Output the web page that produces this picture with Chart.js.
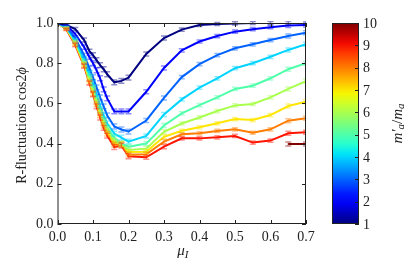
<!DOCTYPE html>
<html>
<head>
<meta charset="utf-8"/>
<title>R-fluctuations</title>
<script src="https://cdn.jsdelivr.net/npm/chart.js@4.4.1/dist/chart.umd.min.js"></script>
<style>
  html, body { margin: 0; padding: 0; background: #fff; }
  #wrap { width: 415px; height: 277px; }
</style>
</head>
<body>
<div id="wrap"><canvas id="myChart" width="415" height="277"></canvas></div>
<script>
// mu_I values where the curves were measured
var muI = [0, 0.025, 0.05, 0.075, 0.09, 0.1, 0.11, 0.12, 0.13, 0.14, 0.16, 0.18, 0.2,
           0.25, 0.3, 0.35, 0.4, 0.45, 0.5, 0.55, 0.6, 0.65, 0.7];

// mass ratio m'_a/m_a for each curve
var massRatio = [1, 2, 3, 4, 5, 6, 7, 8, 9, 10];

// <cos 2phi> for each mass ratio
var r1  = [1.0, 0.99, 0.97, 0.915, 0.86, 0.84, 0.815, 0.79, 0.77, 0.745, 0.705, 0.712, 0.728, 0.846, 0.925, 0.967, 0.99, 0.995, 0.998, 1.0, 1.0, 1.0, 1.0];
var r2  = [1.0, 0.99, 0.945, 0.88, 0.83, 0.80, 0.765, 0.725, 0.67, 0.625, 0.56, 0.56, 0.56, 0.658, 0.776, 0.864, 0.908, 0.935, 0.957, 0.969, 0.979, 0.988, 0.99];
var r3  = [1.0, 0.982, 0.925, 0.84, 0.775, 0.73, 0.68, 0.63, 0.585, 0.54, 0.485, 0.47, 0.46, 0.515, 0.627, 0.731, 0.795, 0.84, 0.874, 0.894, 0.915, 0.935, 0.952];
var r4  = [1.0, 0.978, 0.915, 0.82, 0.75, 0.70, 0.645, 0.59, 0.54, 0.50, 0.45, 0.43, 0.41, 0.438, 0.545, 0.62, 0.678, 0.725, 0.775, 0.80, 0.832, 0.866, 0.894];
var r5  = [1.0, 0.975, 0.91, 0.81, 0.735, 0.68, 0.625, 0.57, 0.52, 0.48, 0.43, 0.40, 0.385, 0.40, 0.49, 0.55, 0.591, 0.63, 0.672, 0.688, 0.725, 0.77, 0.80];
var r6  = [1.0, 0.975, 0.905, 0.80, 0.725, 0.67, 0.615, 0.56, 0.51, 0.47, 0.415, 0.395, 0.368, 0.375, 0.459, 0.50, 0.53, 0.562, 0.59, 0.597, 0.63, 0.672, 0.711];
var r7  = [1.0, 0.972, 0.90, 0.795, 0.715, 0.66, 0.605, 0.55, 0.50, 0.46, 0.405, 0.40, 0.358, 0.36, 0.434, 0.464, 0.481, 0.501, 0.522, 0.517, 0.542, 0.587, 0.608];
var r8  = [1.0, 0.97, 0.895, 0.79, 0.705, 0.65, 0.595, 0.54, 0.49, 0.45, 0.395, 0.395, 0.345, 0.347, 0.41, 0.446, 0.451, 0.463, 0.471, 0.454, 0.471, 0.514, 0.526];
var r9  = [1.0, 0.968, 0.89, 0.785, 0.70, 0.645, 0.585, 0.53, 0.478, 0.44, 0.383, 0.39, 0.337, 0.332, 0.385, 0.426, 0.426, 0.431, 0.438, 0.405, 0.415, 0.451, 0.456];
var r10 = [null, null, null, null, null, null, null, null, null, null, null, null, null, null, null, null, null, null, null, null, null, 0.398, 0.398];

// error bar half height at each mu_I
var yerr = [0, 0.005, 0.008, 0.01, 0.01, 0.012, 0.012, 0.012, 0.012, 0.012, 0.012, 0.012, 0.012,
            0.01, 0.01, 0.008, 0.008, 0.008, 0.008, 0.008, 0.008, 0.01, 0.01];

var xTicks = [0, 0.1, 0.2, 0.3, 0.4, 0.5, 0.6, 0.7];
var yTicks = [0, 0.2, 0.4, 0.6, 0.8, 1.0];
var cbTicks = [1, 2, 3, 4, 5, 6, 7, 8, 9, 10];

var allSeries = [r1, r2, r3, r4, r5, r6, r7, r8, r9, r10];
var FONT = "'Liberation Serif', 'DejaVu Serif', serif";

// matplotlib "jet"
function interp(pts, t) {
    for (var i = 1; i < pts.length; i++) {
        if (t <= pts[i][0]) {
            var a = pts[i-1], b = pts[i];
            return a[1] + (b[1]-a[1]) * (t-a[0]) / (b[0]-a[0]);
        }
    }
    return pts[pts.length-1][1];
}
function jet(t, alpha) {
    var r = interp([[0,0],[0.35,0],[0.66,1],[0.89,1],[1,0.5]], t);
    var g = interp([[0,0],[0.125,0],[0.375,1],[0.64,1],[0.91,0],[1,0]], t);
    var b = interp([[0,0.5],[0.11,1],[0.34,1],[0.65,0],[1,0]], t);
    var a = (alpha === undefined) ? 1 : alpha;
    return 'rgba(' + Math.round(r*255) + ',' + Math.round(g*255) + ',' + Math.round(b*255) + ',' + a + ')';
}

var datasets = [];
for (var k = 0; k < allSeries.length; k++) {
    var pts = [];
    for (var i = 0; i < muI.length; i++) {
        if (allSeries[k][i] !== null) pts.push({x: muI[i], y: allSeries[k][i], e: yerr[i]});
    }
    var t = (massRatio[k] - 1) / 9;
    datasets.push({
        label: "m'/m = " + massRatio[k],
        data: pts,
        borderColor: jet(t),
        errColor: jet(t, 0.45),
        borderWidth: 2,
        pointRadius: 0,
        fill: false,
        tension: 0
    });
}

var decorPlugin = {
    id: 'decor',
    afterDatasetsDraw: function(chart) {
        var ctx = chart.ctx, xs = chart.scales.x, ys = chart.scales.y, area = chart.chartArea;
        ctx.save();
        ctx.beginPath();
        ctx.rect(area.left, area.top - 2, area.right - area.left, area.bottom - area.top + 4);
        ctx.clip();
        chart.data.datasets.forEach(function(ds) {
            ctx.strokeStyle = ds.errColor;
            ctx.lineWidth = 1.5;
            ds.data.forEach(function(p) {
                if (!p.e) return;
                var px = xs.getPixelForValue(p.x);
                var y1 = ys.getPixelForValue(p.y - p.e), y2 = ys.getPixelForValue(p.y + p.e);
                ctx.beginPath();
                ctx.moveTo(px, y1); ctx.lineTo(px, y2);
                ctx.moveTo(px - 3, y1); ctx.lineTo(px + 3, y1);
                ctx.moveTo(px - 3, y2); ctx.lineTo(px + 3, y2);
                ctx.stroke();
            });
        });
        ctx.restore();
    },
    afterDraw: function(chart) {
        var ctx = chart.ctx, xs = chart.scales.x, ys = chart.scales.y, a = chart.chartArea;
        ctx.save();
        // frame and inward ticks
        ctx.strokeStyle = '#222';
        ctx.lineWidth = 1;
        ctx.strokeRect(a.left + 0.5, a.top + 0.5, a.right - a.left - 1, a.bottom - a.top - 1);
        ctx.beginPath();
        xTicks.forEach(function(v) {
            var px = Math.round(xs.getPixelForValue(v)) + 0.5;
            ctx.moveTo(px, a.bottom); ctx.lineTo(px, a.bottom - 4);
            ctx.moveTo(px, a.top); ctx.lineTo(px, a.top + 4);
        });
        yTicks.forEach(function(v) {
            var py = Math.round(ys.getPixelForValue(v)) + 0.5;
            ctx.moveTo(a.left, py); ctx.lineTo(a.left + 4, py);
            ctx.moveTo(a.right, py); ctx.lineTo(a.right - 4, py);
        });
        ctx.stroke();

        // axis titles
        ctx.fillStyle = '#222';
        ctx.textBaseline = 'middle';
        ctx.font = 'italic 15px ' + FONT;
        var cx = (a.left + a.right) / 2 + 1;
        var wMu = ctx.measureText('\u03bc').width;
        ctx.font = 'italic 11px ' + FONT;
        var wI = ctx.measureText('I').width;
        var x0 = cx - (wMu + wI) / 2;
        ctx.font = 'italic 15px ' + FONT;
        ctx.textAlign = 'left';
        ctx.fillText('\u03bc', x0, 251);
        ctx.font = 'italic 11px ' + FONT;
        ctx.fillText('I', x0 + wMu, 255);

        ctx.save();
        ctx.translate(22, (a.top + a.bottom) / 2 + 2);
        ctx.rotate(-Math.PI / 2);
        ctx.font = '14px ' + FONT;
        var s1 = 'R-fluctuations cos2';
        var w1 = ctx.measureText(s1).width;
        ctx.font = 'italic 14px ' + FONT;
        var w2 = ctx.measureText('\u03d5').width;
        var sx = -(w1 + w2) / 2;
        ctx.font = '14px ' + FONT;
        ctx.fillText(s1, sx, 0);
        ctx.font = 'italic 14px ' + FONT;
        ctx.fillText('\u03d5', sx + w1, 0);
        ctx.restore();

        // colour bar
        var cbL = a.right + 26, cbW = 27, cbT = a.top, cbB = a.bottom;
        var grad = ctx.createLinearGradient(0, cbB, 0, cbT);
        for (var s = 0; s <= 20; s++) grad.addColorStop(s / 20, jet(s / 20));
        ctx.fillStyle = grad;
        ctx.fillRect(cbL, cbT, cbW, cbB - cbT);
        ctx.strokeStyle = '#222';
        ctx.strokeRect(cbL + 0.5, cbT + 0.5, cbW - 1, cbB - cbT - 1);
        ctx.font = '14px ' + FONT;
        ctx.fillStyle = '#222';
        ctx.textAlign = 'left';
        ctx.beginPath();
        cbTicks.forEach(function(v) {
            var py = cbB - (v - 1) / 9 * (cbB - cbT);
            ctx.moveTo(cbL + cbW - 4, Math.round(py) + 0.5);
            ctx.lineTo(cbL + cbW, Math.round(py) + 0.5);
            ctx.fillText(String(v), cbL + cbW + 4, py + 1);
        });
        ctx.stroke();

        // colour bar label m'_a / m_a
        ctx.save();
        ctx.translate(cbL + cbW + 39, (cbT + cbB) / 2);
        ctx.rotate(-Math.PI / 2);
        var parts = [['m\u2032', 'italic 15px ', 0], ['a', 'italic 11px ', 3], ['/', '15px ', 0],
                     ['m', 'italic 15px ', 0], ['a', 'italic 11px ', 3]];
        var tot = 0;
        parts.forEach(function(p) { ctx.font = p[1] + FONT; tot += ctx.measureText(p[0]).width; });
        var px0 = -tot / 2;
        parts.forEach(function(p) {
            ctx.font = p[1] + FONT;
            ctx.fillText(p[0], px0, p[2]);
            px0 += ctx.measureText(p[0]).width;
        });
        ctx.restore();
        ctx.restore();
    }
};

var ctx = document.getElementById('myChart');
var myChart = new Chart(ctx, {
    type: 'line',
    data: { datasets: datasets },
    options: {
        responsive: false,
        animation: false,
        layout: { padding: { left: 0, right: 109, top: 23, bottom: 0 } },
        plugins: { legend: { display: false }, tooltip: { enabled: false } },
        scales: {
            x: {
                type: 'linear', min: 0, max: 0.7,
                afterFit: function(s) { s.height = 53; },
                afterBuildTicks: function(s) { s.ticks = xTicks.map(function(v) { return {value: v}; }); },
                grid: { display: false, drawTicks: false },
                border: { display: false },
                ticks: {
                    padding: 5, color: '#222', maxRotation: 0,
                    font: { family: FONT, size: 14 },
                    callback: function(v) { return Number(v).toFixed(1); }
                }
            },
            y: {
                type: 'linear', min: 0, max: 1,
                afterFit: function(s) { s.width = 57.5; },
                afterBuildTicks: function(s) { s.ticks = yTicks.map(function(v) { return {value: v}; }); },
                grid: { display: false, drawTicks: false },
                border: { display: false },
                ticks: {
                    padding: 4, color: '#222',
                    font: { family: FONT, size: 14 },
                    callback: function(v) { return Number(v).toFixed(1); }
                }
            }
        }
    },
    plugins: [decorPlugin]
});
</script>
</body>
</html>
